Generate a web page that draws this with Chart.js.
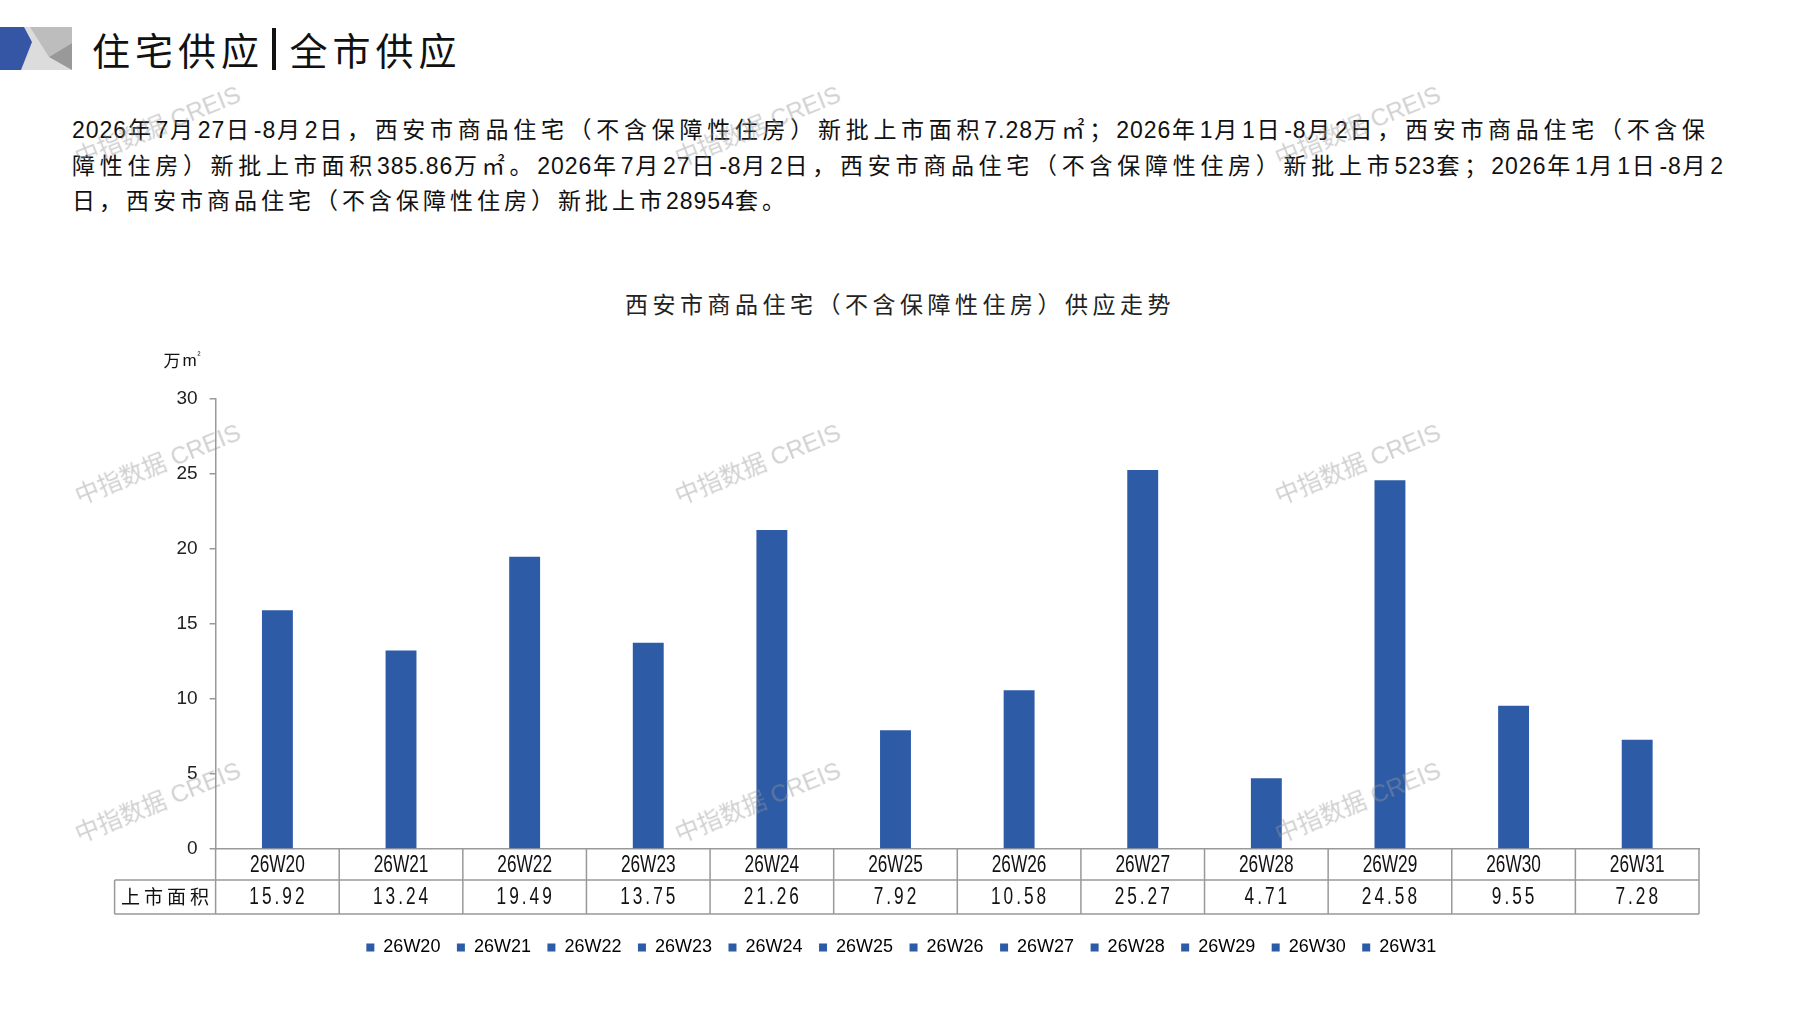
<!DOCTYPE html>
<html>
<head>
<meta charset="utf-8">
<script src="https://cdn.jsdelivr.net/npm/chart.js@4.4.1/dist/chart.umd.min.js"></script>
<style>
  body { margin: 0; width: 1797px; height: 1010px; overflow: hidden; position: relative; background: #fff;
         font-family: "Noto Sans CJK SC", sans-serif; color: #111; }
  #chartBox { position: absolute; left: 0; top: 0; width: 1797px; height: 1010px; }
  .icon { position: absolute; left: 0; top: 27px; }
  .headTitle { position: absolute; left: 92px; top: 29px; font-size: 38px; line-height: 40px; letter-spacing: 5px; color: #111; }
  .headTitle .bar { display: inline-block; width: 3.5px; height: 42px; background: #111; vertical-align: top; margin: -1px 14px 0 8px; }
  .para { position: absolute; left: 72px; top: 112px; width: 1652px; font-size: 23px; line-height: 33.5px;
          letter-spacing: 4px; color: #111; }
  .para div { white-space: nowrap; text-align: justify; text-align-last: justify; }
  .para div.first { margin-right: 15px; }
  .para div.last { text-align-last: left; }
  .para .n { font-family: "Liberation Sans", sans-serif; letter-spacing: 1px; }
  .chartTitle { position: absolute; left: 500px; width: 800px; top: 289px; text-align: center;
                font-size: 23px; line-height: 28px; letter-spacing: 4.5px; color: #222; }
  .wm { position: absolute; font-family: "Liberation Sans", "Noto Sans CJK SC", sans-serif; font-size: 24px;
        color: rgba(150,150,150,0.45); white-space: nowrap; transform: translate(-50%,-50%) rotate(-22deg); pointer-events: none; }
</style>
</head>
<body>
<svg class="icon" width="72" height="43" viewBox="0 0 72 43">
  <rect x="0" y="0" width="72" height="43" fill="#dcdcdc"/>
  <polygon points="30,0 72,0 72,16 49,30" fill="#bdbdbd"/>
  <polygon points="72,16 49,30 72,43" fill="#999999"/>
  <polygon points="0,0 24,0 32,15 21,43 0,43" fill="#3555a5"/>
</svg>
<div class="headTitle">住宅供应<span class="bar"></span>全市供应</div>
<div class="para">
  <div class="first"><span class="n">2026</span>年<span class="n">7</span>月<span class="n">27</span>日<span class="n">-8</span>月<span class="n">2</span>日，西安市商品住宅（不含保障性住房）新批上市面积<span class="n">7.28</span>万㎡；<span class="n">2026</span>年<span class="n">1</span>月<span class="n">1</span>日<span class="n">-8</span>月<span class="n">2</span>日，西安市商品住宅（不含保</div>
  <div>障性住房）新批上市面积<span class="n">385.86</span>万㎡。<span class="n">2026</span>年<span class="n">7</span>月<span class="n">27</span>日<span class="n">-8</span>月<span class="n">2</span>日，西安市商品住宅（不含保障性住房）新批上市<span class="n">523</span>套；<span class="n">2026</span>年<span class="n">1</span>月<span class="n">1</span>日<span class="n">-8</span>月<span class="n">2</span></div>
  <div class="last">日，西安市商品住宅（不含保障性住房）新批上市<span class="n">28954</span>套。</div>
</div>
<div class="chartTitle">西安市商品住宅（不含保障性住房）供应走势</div>
<div id="chartBox"><canvas id="chart"></canvas></div>

<script>
// weekly supply, 万㎡
const weeks = ['26W20', '26W21', '26W22', '26W23', '26W24', '26W25', '26W26', '26W27', '26W28', '26W29', '26W30', '26W31'];
const areaValues = [15.92, 13.24, 19.49, 13.75, 21.26, 7.92, 10.58, 25.27, 4.71, 24.58, 9.55, 7.28];
const yTicks = [0, 5, 10, 15, 20, 25, 30];
const rowLabel = '上市面积';

const barColor = '#2d5ba6';
const lineColor = '#999';
const latinFont = '"Liberation Sans", Arial, sans-serif';

// narrow text: Liberation Sans squeezed horizontally
function narrowText(ctx, txt, x, y, squeeze) {
  ctx.save();
  ctx.translate(x, y);
  ctx.scale(squeeze, 1);
  ctx.fillText(txt, 0, 0);
  ctx.restore();
}

// data table under the x axis
const tablePlugin = {
  id: 'tablePlugin',
  afterDraw(chart) {
    const ctx = chart.ctx;
    const xs = chart.scales.x;
    const area = chart.chartArea;
    const top = area.bottom;
    const mid = top + 31;
    const bot = top + 65;
    const half = (xs.getPixelForValue(1) - xs.getPixelForValue(0)) / 2;
    const tableLeft = area.left - 101;

    ctx.save();
    ctx.strokeStyle = lineColor;
    ctx.lineWidth = 1.5;
    ctx.beginPath();
    ctx.moveTo(tableLeft, mid); ctx.lineTo(xs.right, mid);
    ctx.moveTo(tableLeft, bot); ctx.lineTo(xs.right, bot);
    ctx.moveTo(tableLeft, mid); ctx.lineTo(tableLeft, bot);
    weeks.forEach((w, i) => {
      const bx = xs.getPixelForValue(i) - half;
      ctx.moveTo(bx, top); ctx.lineTo(bx, bot);
    });
    ctx.moveTo(xs.right, top); ctx.lineTo(xs.right, bot);
    ctx.stroke();

    ctx.fillStyle = '#111';
    ctx.textAlign = 'center';
    ctx.textBaseline = 'middle';
    ctx.font = '23px ' + latinFont;
    weeks.forEach((w, i) => {
      const cx = xs.getPixelForValue(i);
      narrowText(ctx, w, cx, (top + mid) / 2 + 1, 0.75);
      ctx.letterSpacing = '4px';
      narrowText(ctx, areaValues[i].toFixed(2), cx + 1, (mid + bot) / 2 + 1, 0.75);
      ctx.letterSpacing = '0px';
    });
    ctx.font = '19px "Noto Sans CJK SC"';
    ctx.letterSpacing = '4px';
    ctx.fillText(rowLabel, (tableLeft + area.left) / 2 + 2, (mid + bot) / 2);
    ctx.letterSpacing = '0px';

    // unit above the y axis
    ctx.textAlign = 'left';
    ctx.font = '17px "Noto Sans CJK SC"';
    ctx.fillText('万', area.left - 52, area.top - 38);
    ctx.font = '17px "Liberation Sans"';
    ctx.fillText('m', area.left - 33, area.top - 38);
    ctx.font = '9px "Liberation Sans"';
    ctx.fillText('²', area.left - 18, area.top - 43);
    ctx.restore();
  }
};

new Chart(document.getElementById('chart'), {
  type: 'bar',
  data: {
    labels: weeks,
    datasets: [{
      label: rowLabel,
      data: areaValues,
      backgroundColor: barColor,
      categoryPercentage: 1,
      barPercentage: 0.25
    }]
  },
  options: {
    responsive: true,
    maintainAspectRatio: false,
    animation: false,
    layout: { padding: { left: 103.6, right: 98, top: 399, bottom: 43.5 } },
    plugins: {
      title: { display: false },
      tooltip: { enabled: false },
      legend: {
        position: 'bottom',
        onClick: null,
        labels: {
          boxWidth: 8,
          boxHeight: 8,
          padding: 16.5,
          color: '#222',
          font: { family: latinFont, size: 18 },
          generateLabels: () => weeks.map((w, i) => ({
            text: w, fillStyle: barColor, strokeStyle: barColor, lineWidth: 0, hidden: false, index: i, datasetIndex: 0
          }))
        }
      }
    },
    scales: {
      x: {
        ticks: { display: false },
        grid: { display: false },
        border: { color: lineColor, width: 1.5 },
        afterFit(scale) { scale.height = 73; }
      },
      y: {
        min: 0,
        max: 30,
        afterBuildTicks(scale) { scale.ticks = yTicks.map(v => ({ value: v })); },
        ticks: { color: '#222', padding: 12, font: { family: latinFont, size: 19 } },
        grid: { drawOnChartArea: false, drawTicks: true, tickLength: 6, color: lineColor, lineWidth: 1.5 },
        border: { color: lineColor, width: 1.5 },
        afterFit(scale) { scale.width = 112; }
      }
    }
  },
  plugins: [tablePlugin]
});
</script>
<div class="wm" style="left:157px;top:124px">中指数据 CREIS</div>
<div class="wm" style="left:757px;top:124px">中指数据 CREIS</div>
<div class="wm" style="left:1357px;top:124px">中指数据 CREIS</div>
<div class="wm" style="left:157px;top:462px">中指数据 CREIS</div>
<div class="wm" style="left:757px;top:462px">中指数据 CREIS</div>
<div class="wm" style="left:1357px;top:462px">中指数据 CREIS</div>
<div class="wm" style="left:157px;top:800px">中指数据 CREIS</div>
<div class="wm" style="left:757px;top:800px">中指数据 CREIS</div>
<div class="wm" style="left:1357px;top:800px">中指数据 CREIS</div>
</body>
</html>
